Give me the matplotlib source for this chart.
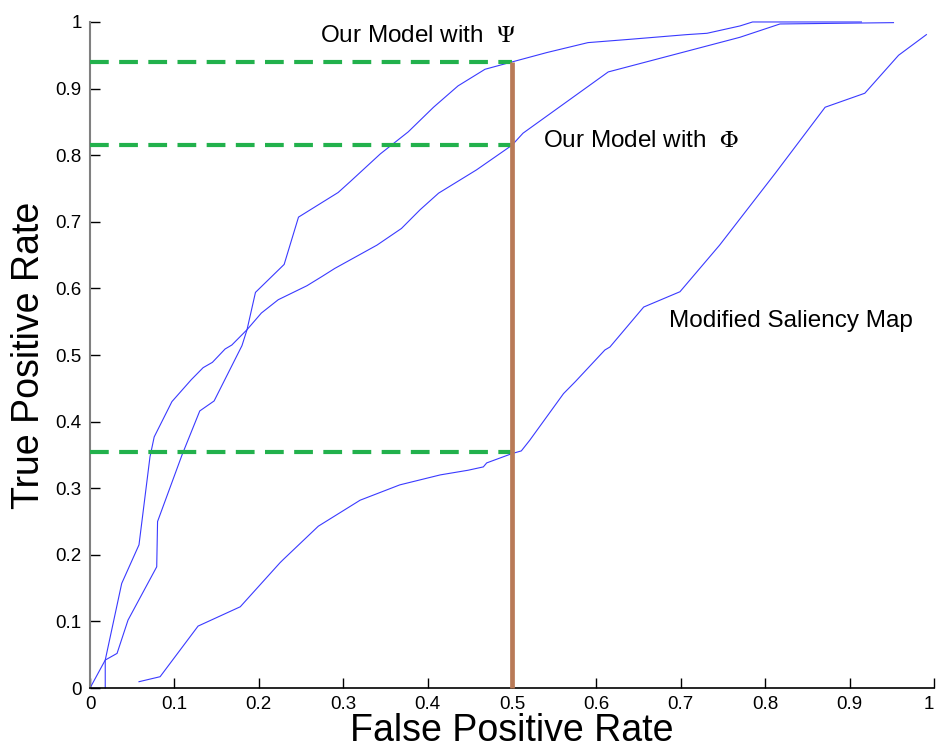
import matplotlib
matplotlib.use('Agg')
import matplotlib.pyplot as plt

plt.rcParams['font.family'] = ['Liberation Sans', 'DejaVu Sans']
plt.rcParams['mathtext.fontset'] = 'stix'

# ── ROC data ───────────────────────────────────────────────────────
psi_fpr = [0.018, 0.018, 0.032, 0.045, 0.079, 0.080, 0.109, 0.130, 0.147, 0.180,
           0.186, 0.196, 0.230, 0.247, 0.294, 0.308, 0.344, 0.377, 0.407, 0.436,
           0.468, 0.500, 0.541, 0.590, 0.640, 0.707, 0.731, 0.770, 0.785, 0.914]
psi_tpr = [0.0, 0.042, 0.052, 0.102, 0.182, 0.250, 0.350, 0.416, 0.431, 0.514,
           0.538, 0.594, 0.636, 0.707, 0.744, 0.760, 0.802, 0.835, 0.872, 0.904,
           0.929, 0.940, 0.954, 0.969, 0.974, 0.981, 0.983, 0.994, 1.0, 1.0]

phi_fpr = [0.0, 0.018, 0.0375, 0.058, 0.071, 0.076, 0.097, 0.120, 0.134, 0.145,
           0.160, 0.168, 0.186, 0.203, 0.223, 0.257, 0.275, 0.290, 0.340, 0.369,
           0.391, 0.413, 0.458, 0.500, 0.513, 0.614, 0.770, 0.8175, 0.952]
phi_tpr = [0.0, 0.042, 0.157, 0.215, 0.347, 0.377, 0.430, 0.463, 0.481, 0.489,
           0.509, 0.515, 0.538, 0.563, 0.583, 0.604, 0.618, 0.630, 0.665, 0.690,
           0.718, 0.743, 0.778, 0.815, 0.833, 0.925, 0.977, 0.997, 0.999]

sal_fpr = [0.058, 0.083, 0.128, 0.178, 0.225, 0.229, 0.2705, 0.320, 0.367, 0.415,
           0.448, 0.466, 0.470, 0.500, 0.511, 0.521, 0.561, 0.575, 0.610, 0.616,
           0.656, 0.699, 0.746, 0.812, 0.871, 0.918, 0.958, 0.991]
sal_tpr = [0.0095, 0.017, 0.093, 0.122, 0.188, 0.193, 0.243, 0.282, 0.305, 0.320,
           0.327, 0.332, 0.338, 0.352, 0.356, 0.372, 0.442, 0.460, 0.5075, 0.512,
           0.572, 0.595, 0.665, 0.773, 0.872, 0.893, 0.950, 0.981]

# operating point: FPR = 0.5 and the TPR each curve reaches there
cut_fpr = 0.5
cut_tpr = [0.94, 0.815, 0.355]

ticks = [0, 0.1, 0.2, 0.3, 0.4, 0.5, 0.6, 0.7, 0.8, 0.9, 1]
tick_labels = ['0', '0.1', '0.2', '0.3', '0.4', '0.5', '0.6', '0.7', '0.8', '0.9', '1']

BLUE = '#3a3aff'
GREEN = '#22B14C'
BROWN = '#B97A57'

fig = plt.figure(figsize=(9.37, 7.55), dpi=100)
ax = fig.add_axes([0.0961, 0.0887, 0.9007, 0.8822])

for xs, ys in [(psi_fpr, psi_tpr), (phi_fpr, phi_tpr), (sal_fpr, sal_tpr)]:
    ax.plot(xs, ys, color=BLUE, lw=0.8, clip_on=False, zorder=2)

for t in cut_tpr:
    ax.plot([0, cut_fpr], [t, t], color=GREEN, lw=3.0, dashes=(4.5, 2.5),
            clip_on=False, zorder=3)
ax.plot([cut_fpr, cut_fpr], [0, max(cut_tpr)], color=BROWN, lw=3.4,
        solid_capstyle='butt', clip_on=False, zorder=4)

ax.text(0.2725, 0.979, r'Our Model with  $\Psi$', fontsize=17.5, va='center')
ax.text(0.537, 0.821, r'Our Model with  $\Phi$', fontsize=17.5, va='center')
ax.text(0.686, 0.551, 'Modified Saliency Map', fontsize=17.5, va='center')

ax.set_xlim(0, 1)
ax.set_ylim(0, 1)
ax.set_xticks(ticks)
ax.set_xticklabels(tick_labels)
ax.set_yticks(ticks)
ax.set_yticklabels(tick_labels)
ax.tick_params(direction='in', length=7, width=1, labelsize=13.5, pad=6)
ax.get_xticklabels()[-1].set_horizontalalignment('right')

for side in ['top', 'right']:
    ax.spines[side].set_visible(False)
ax.spines['left'].set_color('#808080')
ax.spines['left'].set_linewidth(1.5)
ax.spines['bottom'].set_linewidth(1.2)

ax.set_xlabel('False Positive Rate', fontsize=27, labelpad=0)
ax.set_ylabel('True Positive Rate', fontsize=27, labelpad=6)

plt.savefig('out.png', dpi=100)
plt.close()
